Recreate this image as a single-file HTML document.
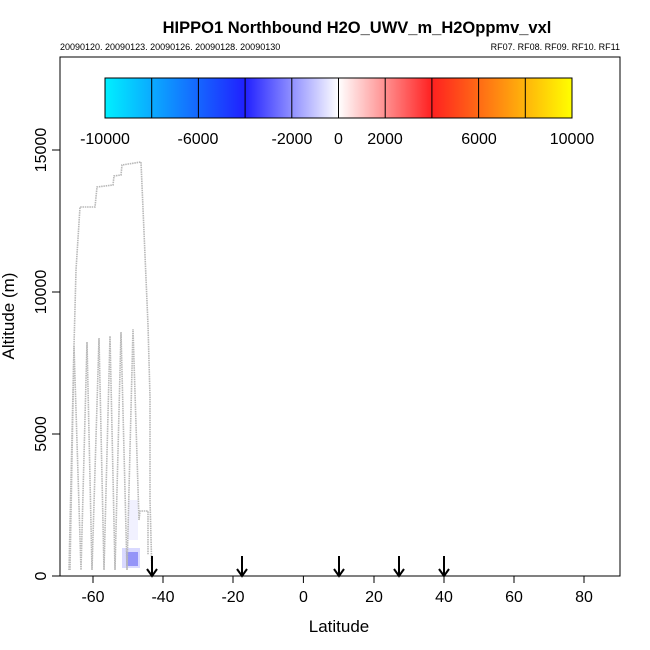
<!DOCTYPE html>
<html><head><meta charset="utf-8"><style>body{margin:0;background:#fff}svg{display:block}</style></head><body>
<svg width="650" height="650" xmlns="http://www.w3.org/2000/svg" font-family="Liberation Sans, sans-serif">
<defs>
<linearGradient id="cb" x1="0" x2="1" y1="0" y2="0">
<stop offset="0" stop-color="#00f0ff"/>
<stop offset="0.3" stop-color="#2020ff"/>
<stop offset="0.5" stop-color="#ffffff"/>
<stop offset="0.7" stop-color="#ff2020"/>
<stop offset="1" stop-color="#ffff00"/>
</linearGradient>
</defs>
<text x="357" y="33" font-size="16.5" font-weight="bold" text-anchor="middle">HIPPO1 Northbound H2O_UWV_m_H2Oppmv_vxl</text>
<text x="60" y="50" font-size="9">20090120. 20090123. 20090126. 20090128. 20090130</text>
<text x="620" y="50" font-size="9" text-anchor="end">RF07. RF08. RF09. RF10. RF11</text>
<rect x="60" y="57" width="560" height="519" fill="none" stroke="#000" stroke-width="1"/>
<rect x="105" y="78" width="467" height="40" fill="url(#cb)" stroke="#000"/>
<g stroke="#000" stroke-width="1">
<line x1="151.7" y1="78" x2="151.7" y2="118"/><line x1="198.4" y1="78" x2="198.4" y2="118"/>
<line x1="245.1" y1="78" x2="245.1" y2="118"/><line x1="291.8" y1="78" x2="291.8" y2="118"/>
<line x1="338.5" y1="78" x2="338.5" y2="118"/><line x1="385.2" y1="78" x2="385.2" y2="118"/>
<line x1="431.9" y1="78" x2="431.9" y2="118"/><line x1="478.6" y1="78" x2="478.6" y2="118"/>
<line x1="525.3" y1="78" x2="525.3" y2="118"/>
</g>
<g font-size="16" text-anchor="middle">
<text x="105" y="144">-10000</text><text x="198" y="144">-6000</text><text x="292" y="144">-2000</text>
<text x="338.5" y="144">0</text><text x="385" y="144">2000</text><text x="479" y="144">6000</text><text x="572" y="144">10000</text>
</g>
<!-- y axis -->
<g stroke="#000"><line x1="60" y1="576" x2="52" y2="576"/><line x1="60" y1="434" x2="52" y2="434"/><line x1="60" y1="292" x2="52" y2="292"/><line x1="60" y1="150" x2="52" y2="150"/></g>
<g font-size="16" text-anchor="middle">
<text transform="translate(46,576) rotate(-90)">0</text>
<text transform="translate(46,434) rotate(-90)">5000</text>
<text transform="translate(46,292) rotate(-90)">10000</text>
<text transform="translate(46,150) rotate(-90)">15000</text>
</g>
<text transform="translate(14,316) rotate(-90)" font-size="17" text-anchor="middle">Altitude (m)</text>
<!-- x axis -->
<line x1="60" y1="576" x2="620" y2="576" stroke="#000"/>
<g stroke="#000">
<line x1="93" y1="576" x2="93" y2="583"/><line x1="163" y1="576" x2="163" y2="583"/><line x1="233" y1="576" x2="233" y2="583"/>
<line x1="303.4" y1="576" x2="303.4" y2="583"/><line x1="374" y1="576" x2="374" y2="583"/><line x1="444" y1="576" x2="444" y2="583"/>
<line x1="514" y1="576" x2="514" y2="583"/><line x1="584" y1="576" x2="584" y2="583"/>
</g>
<g font-size="16" text-anchor="middle">
<text x="93" y="602">-60</text><text x="163" y="602">-40</text><text x="233" y="602">-20</text><text x="303.4" y="602">0</text>
<text x="374" y="602">20</text><text x="444" y="602">40</text><text x="514" y="602">60</text><text x="584" y="602">80</text>
</g>
<text x="339" y="632" font-size="17" text-anchor="middle">Latitude</text>
<!-- blue patches -->
<rect x="126" y="552" width="12" height="14" fill="#7070f0" opacity="0.8"/>
<rect x="122" y="548" width="18" height="20" fill="#a0a0ff" opacity="0.4"/>
<rect x="128" y="500" width="10" height="40" fill="#e8e8ff" opacity="0.6"/>
<!-- track -->
<g fill="none" stroke="#b8b8b8" stroke-width="1.6" stroke-dasharray="1.5,0.8">
<polyline points="69,570 74,346 76,270 80,207 95,207 97,187 113,185 114,176 121,175 122,165 141,162 148,325 150,397 150,500 152,576"/>
<polyline points="70,570 74,346 81,570 87,342 92,570 99,338 104,570 110,336 115,570 121,332 127,570 133,329 139,520 140,511 148,511 148,555"/>
</g>
<!-- arrows -->
<g stroke="#000" stroke-width="2" fill="none">
<path d="M152,556 V576 M147,569 L152,576 L157,569"/>
<path d="M242,556 V576 M237,569 L242,576 L247,569"/>
<path d="M339,556 V576 M334,569 L339,576 L344,569"/>
<path d="M399,556 V576 M394,569 L399,576 L404,569"/>
<path d="M444,556 V576 M439,569 L444,576 L449,569"/>
</g>
</svg>
</body></html>
